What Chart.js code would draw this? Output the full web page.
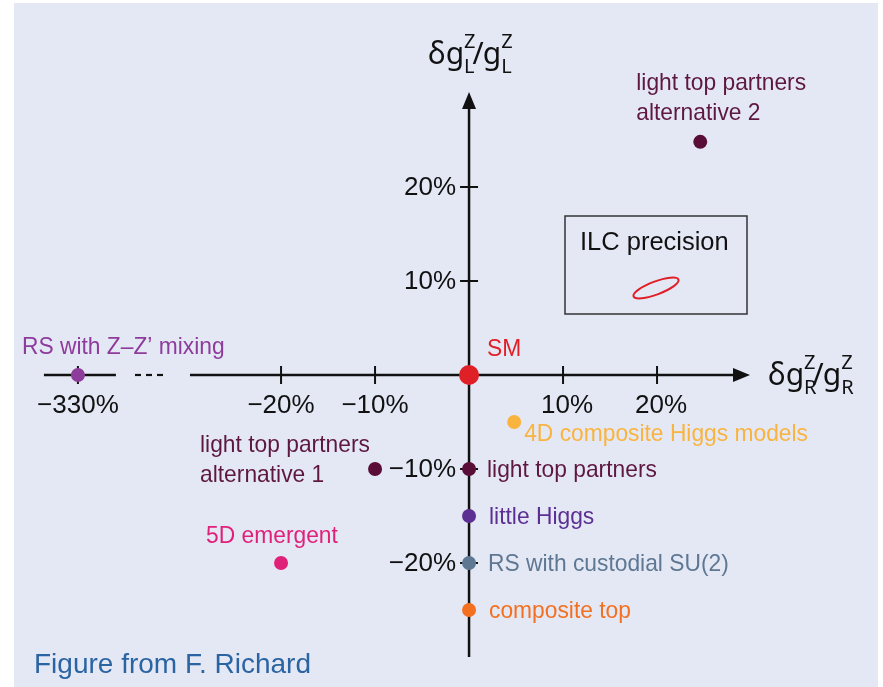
<!DOCTYPE html>
<html>
<head>
<meta charset="utf-8">
<script src="https://cdn.jsdelivr.net/npm/chart.js@4/dist/chart.umd.min.js"></script>
<style>
  html, body { margin: 0; padding: 0; background: #ffffff; }
  #wrap { width: 883px; height: 687px; position: relative; }
</style>
</head>
<body>
<div id="wrap"><canvas id="c" width="883" height="687"></canvas></div>
<script>
// ---------------- data ----------------
const modelNames = [
  "SM",
  "light top partners\nalternative 2",
  "4D composite Higgs models",
  "light top partners",
  "little Higgs",
  "RS with custodial SU(2)",
  "composite top",
  "light top partners\nalternative 1",
  "5D emergent",
  "RS with Z\u2013Z\u2019 mixing"
];
// δg_R^Z/g_R^Z in %
const dgR = [0, 24.6, 4.8, 0, 0, 0, 0, -10, -20, -330];
// δg_L^Z/g_L^Z in %
const dgL = [0, 24.8, -5, -10, -15, -20, -25, -10, -20, 0];
const xTickValues = [-330, -20, -10, 10, 20];
const yTickValues = [20, 10, -10, -20];

// ---------------- styles ----------------
const pointColors = ["#e02027", "#5a0d36", "#f9b43f", "#5a0d36", "#5c2f93", "#5e7893", "#f37021", "#5a0d36", "#e0217a", "#8e3c9c"];
const labelColors = ["#e02027", "#5e1840", "#f9b43f", "#5e1840", "#5c2f93", "#5e7893", "#f37021", "#5e1840", "#e0217a", "#8e3c9c"];
const pointSizes  = [10, 7, 7, 7, 7, 7, 7, 7, 7, 7];
// label anchor offsets from point (px)
const labelDx    = [18, -64, 10, 18, 20, 19, 20, -175, -75, -56];
const labelDy    = [-26, -58, 12, 1, 1, 1, 1, -24, -27, -28];

const FONT = '"Liberation Sans", Arial, sans-serif';
const NARROW = 0.95;

// broken axis: values beyond -30% are compressed
function mapX(v) { return v < -30 ? -30 + (v + 30) * 0.0387 : v; }

const datasets = modelNames.map((name, i) => ({
  label: name,
  data: [{ x: mapX(dgR[i]), y: dgL[i] }],
  backgroundColor: pointColors[i],
  borderColor: pointColors[i],
  borderWidth: 0,
  pointRadius: pointSizes[i],
  pointHoverRadius: pointSizes[i]
}));

function txt(ctx, s, x, y, align, sx) {
  ctx.save();
  ctx.translate(x, y);
  ctx.scale(sx, 1);
  ctx.textAlign = align;
  ctx.fillText(s, 0, 0);
  ctx.restore();
}

function arrow(ctx, x, y, dir) {
  ctx.beginPath();
  if (dir === 'up') { ctx.moveTo(x, y); ctx.lineTo(x - 7, y + 17); ctx.lineTo(x + 7, y + 17); }
  else { ctx.moveTo(x, y); ctx.lineTo(x - 17, y - 7); ctx.lineTo(x - 17, y + 7); }
  ctx.closePath(); ctx.fill();
}

function axisTitle(ctx, x, y, sub) {
  ctx.save();
  ctx.fillStyle = '#111';
  ctx.textBaseline = 'alphabetic';
  ctx.textAlign = 'left';
  const big = '30px "Noto Sans", "Open Sans", sans-serif';
  const small = '20px "Noto Sans", "Open Sans", sans-serif';
  let cx = x;
  ctx.font = big;
  ctx.fillText('\u03b4g', cx, y); cx += ctx.measureText('\u03b4g').width;
  ctx.font = small;
  ctx.fillText('Z', cx, y - 16);
  ctx.fillText(sub, cx, y + 9);
  cx += ctx.measureText('Z').width - 3;
  ctx.font = big;
  ctx.fillText('/', cx, y); cx += ctx.measureText('/').width - 1;
  ctx.fillText('g', cx, y); cx += ctx.measureText('g').width;
  ctx.font = small;
  ctx.fillText('Z', cx, y - 16);
  ctx.fillText(sub, cx, y + 9);
  ctx.restore();
}

const decor = {
  id: 'decor',
  beforeDraw(chart) {
    const ctx = chart.ctx;
    ctx.save();
    ctx.fillStyle = '#ffffff';
    ctx.fillRect(0, 0, chart.width, chart.height);
    ctx.fillStyle = '#e4e8f5';
    ctx.fillRect(14, 3, 864, 684);
    ctx.restore();
  },
  beforeDatasetsDraw(chart) {
    const ctx = chart.ctx, xs = chart.scales.x, ys = chart.scales.y;
    const x0 = xs.getPixelForValue(0), y0 = ys.getPixelForValue(0);
    ctx.save();
    ctx.strokeStyle = '#111'; ctx.fillStyle = '#111';
    ctx.lineWidth = 2.5;
    // x axis main part
    ctx.beginPath(); ctx.moveTo(190, y0); ctx.lineTo(735, y0); ctx.stroke();
    arrow(ctx, 750, y0, 'right');
    // broken part
    const xb = xs.getPixelForValue(mapX(-330));
    ctx.beginPath(); ctx.moveTo(xb - 34, y0); ctx.lineTo(xb + 38, y0); ctx.stroke();
    ctx.lineWidth = 2.2;
    [135, 146, 157].forEach(p => { ctx.beginPath(); ctx.moveTo(p, y0); ctx.lineTo(p + 6, y0); ctx.stroke(); });
    ctx.lineWidth = 2.5;
    // y axis
    ctx.beginPath(); ctx.moveTo(x0, 657); ctx.lineTo(x0, 105); ctx.stroke();
    arrow(ctx, x0, 92, 'up');
    // ticks
    ctx.lineWidth = 2;
    xTickValues.forEach(v => {
      const p = xs.getPixelForValue(mapX(v));
      ctx.beginPath(); ctx.moveTo(p, y0 - 9); ctx.lineTo(p, y0 + 9); ctx.stroke();
    });
    yTickValues.forEach(v => {
      const p = ys.getPixelForValue(v);
      ctx.beginPath(); ctx.moveTo(x0 - 9, p); ctx.lineTo(x0 + 9, p); ctx.stroke();
    });
    // tick labels
    ctx.font = '26px ' + FONT;
    ctx.textBaseline = 'middle';
    xTickValues.forEach(v => {
      const p = xs.getPixelForValue(mapX(v));
      const t = (v < 0 ? '\u2212' + (-v) : v) + '%';
      txt(ctx, t, p + (v > 0 ? 4 : 0), y0 + 31, 'center', 1);
    });
    yTickValues.forEach(v => {
      const p = ys.getPixelForValue(v);
      const t = (v < 0 ? '\u2212' + (-v) : v) + '%';
      txt(ctx, t, x0 - 13, p + 1, 'right', 1);
    });
    // axis titles
    axisTitle(ctx, 428, 64, 'L');
    axisTitle(ctx, 768, 385, 'R');
    // ILC precision box
    ctx.lineWidth = 1.5; ctx.strokeStyle = '#333';
    ctx.strokeRect(565, 216, 182, 98);
    ctx.fillStyle = '#111';
    ctx.font = '26px ' + FONT;
    ctx.textBaseline = 'middle';
    txt(ctx, 'ILC precision', 580, 243, 'left', 0.98);
    ctx.strokeStyle = '#e02027'; ctx.lineWidth = 2;
    ctx.beginPath(); ctx.ellipse(656, 288, 24, 6.5, -0.36, 0, Math.PI * 2); ctx.stroke();
    // credit
    ctx.fillStyle = '#2b64a2';
    ctx.font = '28px ' + FONT;
    ctx.textBaseline = 'alphabetic';
    txt(ctx, 'Figure from F. Richard', 34, 673, 'left', 1);
    ctx.restore();
  },
  afterDatasetsDraw(chart) {
    const ctx = chart.ctx, xs = chart.scales.x, ys = chart.scales.y;
    ctx.save();
    ctx.font = '24px ' + FONT;
    ctx.textBaseline = 'middle';
    modelNames.forEach((name, i) => {
      const px = xs.getPixelForValue(mapX(dgR[i]));
      const py = ys.getPixelForValue(dgL[i]);
      ctx.fillStyle = labelColors[i];
      name.split('\n').forEach((line, k) => {
        txt(ctx, line, px + labelDx[i], py + labelDy[i] + k * 30, 'left', NARROW);
      });
    });
    ctx.restore();
  }
};

new Chart(document.getElementById('c'), {
  type: 'scatter',
  data: { datasets },
  options: {
    responsive: false,
    animation: false,
    layout: { padding: 0, autoPadding: false },
    plugins: { legend: { display: false }, tooltip: { enabled: false } },
    scales: {
      x: { type: 'linear', min: -49.9, max: 44.04, display: false },
      y: { type: 'linear', min: -33.19, max: 39.89, display: false }
    }
  },
  plugins: [decor]
});
</script>
</body>
</html>
